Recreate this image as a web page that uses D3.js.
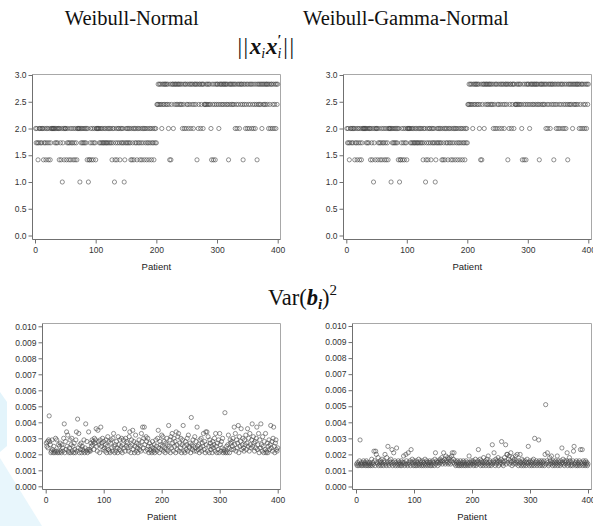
<!DOCTYPE html>
<html><head><meta charset="utf-8">
<script src="https://cdn.jsdelivr.net/npm/d3@7"></script>
<style>body{margin:0;background:#fff} svg{display:block}</style>
</head><body>
<svg id="chart" width="593" height="526"></svg>
<script>
// ---- data ----
const patients = d3.range(1, 401);
const levelValues = [1.0, 1.4142, 1.7321, 2.0, 2.4495, 2.8284];
// level code (1..6) of ||x_i x_i'|| per patient
const normCodes = [
4,3,4,3,2,3,4,4,3,4,3,4,4,2,3,4,3,2,4,3,
4,2,3,4,2,3,4,4,4,4,4,4,3,4,3,4,3,4,4,2,
4,3,2,4,1,3,4,2,4,4,4,2,3,4,3,2,3,4,2,3,
4,3,2,4,3,2,4,3,2,4,4,4,4,1,4,3,4,3,4,3,
4,3,4,3,4,2,4,1,2,2,3,4,2,3,4,2,3,4,3,2,
4,4,4,4,4,3,4,3,4,3,4,3,3,4,3,4,3,3,4,3,
4,3,4,3,4,3,2,4,3,4,1,2,3,4,2,3,4,4,3,2,
4,3,4,3,4,3,1,2,3,4,3,4,3,4,3,4,3,2,4,2,
3,4,2,4,3,4,3,2,4,3,4,3,2,4,3,2,4,3,4,2,
4,3,4,2,3,4,3,2,4,3,4,2,3,4,3,2,4,3,4,3,
5,5,6,5,6,5,6,5,4,6,5,6,5,6,6,5,6,5,6,4,
5,2,6,2,5,6,6,4,6,5,6,6,5,6,5,6,6,5,6,5,
6,5,4,6,5,4,6,6,4,5,6,5,4,6,5,6,4,6,5,6,
4,5,6,6,5,6,2,6,4,5,6,6,4,5,6,6,4,6,5,5,
5,6,5,6,5,6,5,6,5,4,2,6,5,2,6,5,2,6,5,6,
6,5,4,6,5,6,6,5,6,5,6,6,5,6,6,5,6,5,2,6,
5,6,6,5,6,5,6,5,6,4,6,5,4,6,5,6,4,6,5,6,
6,5,2,6,5,6,4,5,6,4,6,5,4,6,5,6,4,6,5,4,
6,5,4,6,5,2,6,5,6,5,6,5,6,4,6,5,6,5,6,5,
6,6,5,6,4,6,5,4,6,6,4,5,6,4,5,6,4,6,5,6];
const normValues = normCodes.map(c => levelValues[c - 1]);

// Var(b_i)^2, Weibull-Normal
const varWN = [
.0027,.0025,.0028,.0024,.0029,.0044,.0028,.0026,.0021,.0022,.0029,.0023,.0021,.0025,.0022,.0021,.0030,.0022,.0029,.0021,
.0022,.0026,.0021,.0025,.0027,.0022,.0021,.0026,.0024,.0022,.0030,.0039,.0021,.0028,.0023,.0034,.0025,.0032,.0022,.0021,
.0024,.0029,.0021,.0026,.0030,.0022,.0025,.0021,.0027,.0023,.0021,.0029,.0034,.0022,.0042,.0024,.0033,.0021,.0026,.0023,
.0027,.0021,.0025,.0023,.0022,.0029,.0021,.0024,.0039,.0022,.0028,.0021,.0023,.0034,.0022,.0023,.0022,.0027,.0025,.0029,
.0026,.0028,.0023,.0030,.0027,.0029,.0036,.0025,.0022,.0035,.0028,.0026,.0021,.0029,.0037,.0025,.0027,.0030,.0023,.0028,
.0024,.0022,.0026,.0029,.0021,.0025,.0031,.0023,.0028,.0022,.0021,.0027,.0029,.0024,.0022,.0030,.0033,.0025,.0021,.0026,
.0022,.0028,.0024,.0021,.0031,.0026,.0023,.0029,.0022,.0025,.0030,.0021,.0026,.0029,.0024,.0036,.0022,.0030,.0025,.0028,
.0027,.0024,.0022,.0031,.0034,.0025,.0021,.0029,.0026,.0035,.0023,.0028,.0021,.0025,.0032,.0022,.0027,.0024,.0021,.0026,
.0029,.0023,.0025,.0022,.0033,.0028,.0037,.0024,.0030,.0037,.0026,.0022,.0031,.0028,.0023,.0030,.0025,.0021,.0027,.0023,
.0022,.0025,.0021,.0028,.0024,.0022,.0026,.0021,.0023,.0029,.0025,.0022,.0030,.0035,.0024,.0021,.0028,.0026,.0023,.0032,
.0025,.0031,.0022,.0028,.0024,.0021,.0027,.0023,.0030,.0026,.0022,.0038,.0025,.0029,.0021,.0031,.0024,.0033,.0027,.0022,
.0030,.0025,.0028,.0021,.0034,.0026,.0023,.0031,.0033,.0022,.0027,.0024,.0030,.0021,.0026,.0029,.0038,.0022,.0025,.0021,
.0028,.0023,.0026,.0030,.0022,.0032,.0025,.0024,.0027,.0021,.0043,.0026,.0023,.0029,.0025,.0022,.0031,.0024,.0028,.0022,
.0037,.0025,.0023,.0026,.0021,.0029,.0024,.0030,.0022,.0027,.0025,.0033,.0023,.0028,.0021,.0034,.0026,.0034,.0022,.0031,
.0025,.0021,.0029,.0027,.0023,.0025,.0021,.0028,.0024,.0026,.0030,.0022,.0033,.0025,.0021,.0027,.0023,.0029,.0021,.0033,
.0026,.0022,.0028,.0024,.0030,.0021,.0023,.0022,.0046,.0021,.0022,.0025,.0021,.0026,.0032,.0024,.0021,.0029,.0027,.0023,
.0028,.0025,.0030,.0023,.0037,.0026,.0033,.0022,.0029,.0024,.0027,.0038,.0021,.0031,.0025,.0028,.0036,.0023,.0026,.0030,
.0024,.0022,.0029,.0026,.0032,.0023,.0027,.0036,.0025,.0030,.0022,.0033,.0026,.0024,.0029,.0039,.0025,.0031,.0027,.0022,
.0028,.0024,.0030,.0037,.0023,.0026,.0033,.0021,.0029,.0024,.0039,.0026,.0022,.0031,.0025,.0021,.0028,.0023,.0033,.0021,
.0022,.0027,.0021,.0025,.0029,.0023,.0026,.0038,.0024,.0028,.0022,.0030,.0037,.0025,.0021,.0027,.0029,.0023,.0022,.0024];

// Var(b_i)^2, Weibull-Gamma-Normal
const varWGN = [
.0014,.0013,.0015,.0014,.0013,.0016,.0029,.0014,.0013,.0015,.0014,.0013,.0016,.0014,.0015,.0013,.0014,.0016,.0013,.0015,
.0014,.0013,.0015,.0014,.0013,.0014,.0017,.0013,.0015,.0014,.0022,.0016,.0013,.0022,.0020,.0015,.0014,.0018,.0013,.0015,
.0014,.0016,.0013,.0015,.0017,.0014,.0013,.0016,.0015,.0020,.0014,.0013,.0018,.0015,.0025,.0014,.0013,.0016,.0015,.0017,
.0014,.0023,.0013,.0015,.0021,.0014,.0016,.0013,.0015,.0024,.0014,.0013,.0016,.0014,.0015,.0013,.0014,.0016,.0013,.0015,
.0014,.0019,.0015,.0013,.0014,.0020,.0016,.0014,.0013,.0021,.0015,.0014,.0016,.0013,.0023,.0015,.0017,.0014,.0013,.0016,
.0015,.0013,.0014,.0016,.0013,.0015,.0014,.0017,.0013,.0014,.0016,.0015,.0013,.0014,.0016,.0013,.0015,.0014,.0017,.0013,
.0014,.0016,.0015,.0013,.0014,.0015,.0016,.0013,.0015,.0014,.0013,.0016,.0014,.0015,.0013,.0017,.0021,.0014,.0016,.0015,
.0013,.0015,.0016,.0014,.0017,.0015,.0016,.0018,.0014,.0016,.0021,.0015,.0017,.0014,.0019,.0016,.0015,.0018,.0014,.0017,
.0015,.0018,.0014,.0016,.0019,.0021,.0015,.0017,.0021,.0014,.0016,.0013,.0015,.0014,.0016,.0013,.0015,.0014,.0013,.0016,
.0014,.0013,.0015,.0014,.0016,.0013,.0015,.0014,.0013,.0016,.0014,.0015,.0013,.0014,.0019,.0015,.0013,.0014,.0016,.0015,
.0014,.0016,.0013,.0015,.0014,.0017,.0013,.0015,.0014,.0016,.0023,.0014,.0015,.0017,.0013,.0016,.0014,.0015,.0013,.0018,
.0015,.0014,.0016,.0013,.0015,.0017,.0014,.0019,.0013,.0015,.0016,.0014,.0013,.0015,.0026,.0014,.0016,.0021,.0015,.0013,
.0017,.0014,.0016,.0015,.0018,.0013,.0016,.0014,.0015,.0017,.0028,.0014,.0016,.0013,.0015,.0018,.0016,.0026,.0014,.0020,
.0020,.0015,.0017,.0019,.0014,.0016,.0021,.0015,.0013,.0018,.0016,.0014,.0017,.0015,.0019,.0014,.0016,.0020,.0015,.0013,
.0016,.0014,.0020,.0015,.0013,.0017,.0014,.0016,.0013,.0015,.0014,.0016,.0013,.0015,.0017,.0014,.0025,.0015,.0013,.0016,
.0014,.0015,.0013,.0016,.0014,.0017,.0013,.0030,.0015,.0014,.0016,.0013,.0015,.0014,.0029,.0016,.0013,.0015,.0014,.0016,
.0013,.0015,.0014,.0016,.0013,.0020,.0051,.0014,.0016,.0021,.0015,.0013,.0014,.0018,.0016,.0014,.0019,.0015,.0013,.0016,
.0014,.0015,.0013,.0016,.0014,.0015,.0019,.0013,.0016,.0014,.0015,.0013,.0016,.0014,.0024,.0015,.0017,.0014,.0013,.0016,
.0015,.0014,.0016,.0021,.0013,.0015,.0014,.0018,.0016,.0013,.0015,.0014,.0013,.0016,.0022,.0025,.0014,.0015,.0013,.0016,
.0014,.0013,.0015,.0014,.0016,.0013,.0023,.0015,.0014,.0023,.0013,.0016,.0014,.0015,.0013,.0016,.0014,.0015,.0013,.0014];

const xTicks = [0, 100, 200, 300, 400];
const yTicksTop = [0, 0.5, 1.0, 1.5, 2.0, 2.5, 3.0];
const yTicksBottom = [0, 0.001, 0.002, 0.003, 0.004, 0.005, 0.006, 0.007, 0.008, 0.009, 0.010];
const columnTitles = ["Weibull-Normal", "Weibull-Gamma-Normal"];
const xLabel = "Patient";

// ---- drawing ----
const svg = d3.select("#chart");
const sans = "'Liberation Sans', Arial, sans-serif";
const serif = "'Liberation Serif', 'Times New Roman', serif";

// faint page decoration at lower-left corner
svg.append("path").attr("d", "M0,392L7,402L7,446L0,452Z").attr("fill", "#e3f4fb");
svg.append("path").attr("d", "M0,458L42,526L0,526Z").attr("fill", "#e8f6fc");

function panel(cfg, values, yDomain, yTicks, fmt) {
  const x = d3.scaleLinear().domain([0, 400]).range([cfg.x0, cfg.x1]);
  const y = d3.scaleLinear().domain(yDomain).range([cfg.y0, cfg.y1]);
  const g = svg.append("g");
  g.append("path")
    .attr("d", `M${cfg.left},${cfg.top}H${cfg.right}V${cfg.bottom}`)
    .attr("fill", "none").attr("stroke", "#a8a8a8").attr("stroke-width", 1);
  g.append("g").selectAll("circle").data(values).join("circle")
    .attr("cx", (d, i) => x(patients[i]))
    .attr("cy", d => y(d))
    .attr("r", 2.1)
    .attr("fill", "none").attr("stroke", "#474747").attr("stroke-width", 0.6);
  const ya = g.append("g").attr("transform", `translate(${cfg.left},0)`)
    .call(d3.axisLeft(y).tickValues(yTicks).tickFormat(fmt).tickSize(4).tickPadding(2));
  const xa = g.append("g").attr("transform", `translate(0,${cfg.bottom})`)
    .call(d3.axisBottom(x).tickValues(xTicks).tickFormat(d3.format("d")).tickSize(4).tickPadding(3));
  [ya, xa].forEach(a => {
    a.select(".domain").remove();
    a.selectAll(".tick line").attr("stroke", "#707070");
    a.selectAll(".tick text").attr("fill", "#333").style("font-family", sans).style("font-size", "8.5px");
  });
  g.append("path")
    .attr("d", `M${cfg.left},${cfg.top}V${cfg.bottom}H${cfg.right}`)
    .attr("fill", "none").attr("stroke", "#707070").attr("stroke-width", 1);
  g.append("text")
    .attr("x", (cfg.x0 + cfg.x1) / 2).attr("y", cfg.bottom + 30.5)
    .attr("text-anchor", "middle").attr("fill", "#222")
    .style("font-family", sans).style("font-size", "9.5px")
    .text(xLabel);
}

const fmtTop = d3.format(".1f");
const fmtBot = d3.format(".3f");

panel({left: 32.5, right: 280.5, top: 74.5, bottom: 239.5, x0: 35, x1: 277.7, y0: 235.5, y1: 75},
      normValues, [0, 3], yTicksTop, fmtTop);
panel({left: 343.5, right: 591.5, top: 74.5, bottom: 239.5, x0: 346.3, x1: 588.3, y0: 235.5, y1: 75},
      normValues, [0, 3], yTicksTop, fmtTop);
panel({left: 42.5, right: 280.5, top: 323.5, bottom: 489.5, x0: 45.7, x1: 277.7, y0: 486.3, y1: 326.3},
      varWN, [0, 0.010], yTicksBottom, fmtBot);
panel({left: 352.5, right: 591.5, top: 323.5, bottom: 489.5, x0: 356, x1: 588, y0: 486.5, y1: 326},
      varWGN, [0, 0.010], yTicksBottom, fmtBot);

// column titles
[131.7, 405.8].forEach((cx, i) => {
  svg.append("text").attr("x", cx).attr("y", 25).attr("text-anchor", "middle")
    .attr("fill", "#111").style("font-family", serif).style("font-size", "20.5px")
    .text(columnTitles[i]);
});

// ||x_i x_i'||
const t1 = svg.append("text").attr("x", 266.5).attr("y", 54).attr("text-anchor", "middle")
  .attr("fill", "#111").style("font-family", serif).style("font-size", "23px");
t1.append("tspan").attr("letter-spacing", "1.5").text("||");
t1.append("tspan").style("font-weight", "bold").style("font-style", "italic").text("x");
t1.append("tspan").attr("dy", 4).style("font-size", "14px").style("font-style", "italic").text("i");
t1.append("tspan").attr("dy", -4).attr("dx", 1).style("font-weight", "bold").style("font-style", "italic").text("x");
t1.append("tspan").attr("dy", -9).style("font-size", "14px").style("font-weight", "bold").text("′");
t1.append("tspan").attr("dy", 13).attr("dx", -4).style("font-size", "14px").style("font-style", "italic").text("i");
t1.append("tspan").attr("dy", -4).attr("dx", 2).attr("letter-spacing", "1.5").text("||");

// Var(b_i)^2
const t2 = svg.append("text").attr("x", 302.5).attr("y", 305).attr("text-anchor", "middle")
  .attr("fill", "#111").style("font-family", serif).style("font-size", "22.5px");
t2.append("tspan").text("Var(");
t2.append("tspan").style("font-weight", "bold").style("font-style", "italic").text("b");
t2.append("tspan").attr("dy", 4).style("font-size", "15px").style("font-weight", "bold").style("font-style", "italic").text("i");
t2.append("tspan").attr("dy", -4).text(")");
t2.append("tspan").attr("dy", -10).style("font-size", "15px").text("2");
</script>
</body></html>
